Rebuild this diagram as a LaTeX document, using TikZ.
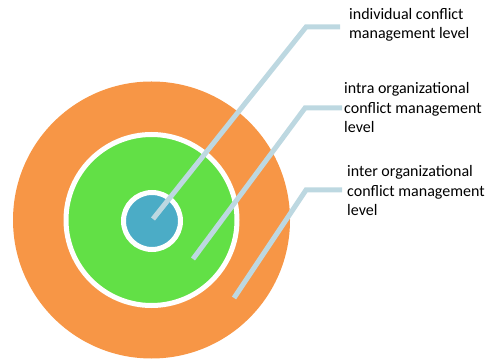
\documentclass[tikz,border=0pt]{standalone}
\usepackage{fontspec}
\setmainfont{Carlito}
\definecolor{ringorange}{HTML}{F79646}
\definecolor{ringgreen}{HTML}{62E046}
\definecolor{ringblue}{HTML}{4BACC6}
\definecolor{leader}{HTML}{BDD8E1}
\tikzset{
  ring/.style={circle, draw=white, line width=5pt, inner sep=0pt},
  lbl/.style={anchor=west, align=left, inner sep=0pt, font=\fontsize{16}{19.5}\selectfont, text=black},
  leaderline/.style={draw=leader, line width=5pt}
}
\begin{document}
\begin{tikzpicture}[x=1pt,y=1pt]
\useasboundingbox (0,0) rectangle (489,361);
\node[circle, fill=ringorange, minimum size=277pt, inner sep=0pt] (outer) at (151.5,141) {};
\node[ring, fill=ringgreen, minimum size=171pt] (middle) at (151.5,141) {};
\node[ring, fill=ringblue, minimum size=57pt] (inner) at (152,140) {};
\node[lbl] (t1) at (349,336) {individual conflict\\management level};
\node[lbl] (t2) at (344,253) {intra organizational\\conflict management\\level};
\node[lbl] (t3) at (347,170) {inter organizational\\conflict management\\level};
\coordinate (s1) at (153,142);
\coordinate (e1) at (306,334);
\coordinate (s2) at (193,102);
\coordinate (e2) at (305,253);
\coordinate (s3) at (234,63);
\coordinate (e3) at (306,171);
\draw[leaderline] (s1) -- (e1) -- ([xshift=-9pt]e1 -| t1.west);
\draw[leaderline] (s2) -- (e2) -- ([xshift=-2pt]e2 -| t2.west);
\draw[leaderline] (s3) -- (e3) -- ([xshift=-5pt]e3 -| t3.west);
\end{tikzpicture}
\end{document}
